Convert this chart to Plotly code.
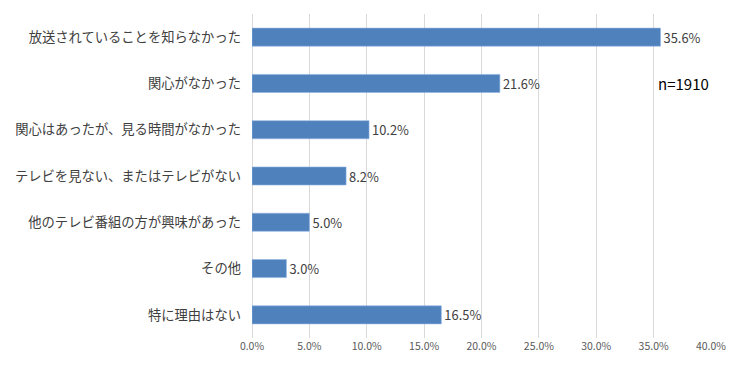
import plotly.graph_objects as go

categories = [
    "放送されていることを知らなかった",
    "関心がなかった",
    "関心はあったが、見る時間がなかった",
    "テレビを見ない、またはテレビがない",
    "他のテレビ番組の方が興味があった",
    "その他",
    "特に理由はない",
]
values = [35.6, 21.6, 10.2, 8.2, 5.0, 3.0, 16.5]
tick_vals = [0, 5, 10, 15, 20, 25, 30, 35, 40]
tick_text = ["0.0%", "5.0%", "10.0%", "15.0%", "20.0%", "25.0%", "30.0%", "35.0%", "40.0%"]
note = "n=1910"

font_jp = "Noto Sans CJK JP"

fig = go.Figure(go.Bar(
    x=values,
    y=categories,
    orientation="h",
    marker=dict(color="#4F81BD", line=dict(color="#8EB4E3", width=0.6)),
    width=0.39,
    text=[f"{v:.1f}%" for v in values],
    textposition="outside",
    textfont=dict(family=font_jp, size=15, color="#404040"),
    cliponaxis=False,
))

fig.update_layout(
    width=740, height=367,
    margin=dict(l=244, r=37, t=6, b=37),
    paper_bgcolor="white", plot_bgcolor="white",
    showlegend=False,
    xaxis=dict(
        range=[0, 40], tickvals=tick_vals, ticktext=tick_text,
        showgrid=True, gridcolor="#D9D9D9", gridwidth=1,
        zeroline=True, zerolinecolor="#D9D9D9", zerolinewidth=1,
        tickfont=dict(family=font_jp, size=10.5, color="#595959"),
        ticks="", showline=False, automargin=False,
    ),
    yaxis=dict(
        categoryorder="array", categoryarray=categories, autorange="reversed",
        tickfont=dict(family=font_jp, size=13.3, color="#404040"),
        ticks="", ticklabelstandoff=10, showgrid=False, automargin=False,
    ),
    annotations=[dict(
        text=note, x=40, y=1, xref="x", yref="y", xanchor="right", yanchor="middle",
        showarrow=False, font=dict(family=font_jp, size=15, color="#000000"),
    )],
)

fig.write_html("out.html")
